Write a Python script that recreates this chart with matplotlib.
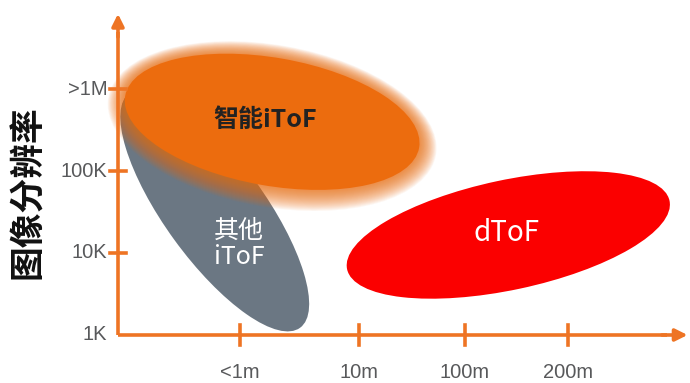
import matplotlib
matplotlib.use("Agg")
from matplotlib import pyplot as plt
from matplotlib.patches import Ellipse

# data: categories / ranges (x in axis position units, y in log10 pixels)
x_labels = ['<1m', '10m', '100m', '200m']
x_pos = [1.49, 2.94, 4.23, 5.49]
y_labels = ['1K', '10K', '100K', '>1M']
y_pos = [3, 4, 5, 6]

# regions: centre x, centre log10(res), width, height, angle
regions = {
    'other':  (1.18, 4.52, 3.54, 1.22, -54),
    'smart':  (1.88, 5.60, 3.64, 1.56, -10),
    'dtof':   (4.76, 4.22, 4.02, 1.34, 12),
}

orange = '#ec6c0e'
axis_c = '#ee7424'
gray = '#6b7783'
red = '#fb0000'

fig = plt.figure(figsize=(6.9, 3.83), dpi=100)
ax = fig.add_axes([0, 0, 1, 1])
ax.set_xlim(-1.439, 6.976)
ax.set_ylim(2.415, 7.085)
ax.set_aspect('equal')
ax.axis('off')

# other iToF (gray)
cx, cy, w, h, a = regions['other']
ax.add_patch(Ellipse((cx, cy), w, h, angle=a, color=gray, lw=0, zorder=2))

# glow around smart iToF
cx, cy, w, h, a = regions['smart']
for k in range(22, 0, -1):
    d = k * 0.0095
    ax.add_patch(Ellipse((cx, cy - d * 0.25), w + 2 * d, h + 2 * d, angle=a,
                         color=orange, alpha=0.055, lw=0, zorder=3))
ax.add_patch(Ellipse((cx, cy), w, h, angle=a, color=orange, lw=0, zorder=4))

# dToF (red)
cx, cy, w, h, a = regions['dtof']
ax.add_patch(Ellipse((cx, cy), w, h, angle=a, color=red, lw=0, zorder=2))

cjk = ['Noto Sans CJK SC', 'DejaVu Sans']
ax.text(1.79, 5.62, '智能iToF', ha='center', va='center', fontsize=18,
        fontweight='bold', color='#222222', family=cjk, zorder=6)
ax.text(1.475, 4.11, '其他\niToF', ha='center', va='center', fontsize=18,
        color='white', family=cjk, linespacing=1.05, zorder=6)
ax.text(4.74, 4.24, 'dToF', ha='center', va='center', fontsize=20,
        color='white', family=cjk, zorder=6)

# axes with arrows
ax.plot([0, 6.7], [3, 3], color=axis_c, lw=2.6, solid_capstyle='butt', zorder=5)
ax.plot([0, 0], [3, 6.7], color=axis_c, lw=2.6, solid_capstyle='butt', zorder=5)
ax.annotate('', xy=(6.98, 3), xytext=(6.6, 3),
            arrowprops=dict(arrowstyle='-|>', color=axis_c, lw=2.6, mutation_scale=18), zorder=5)
ax.annotate('', xy=(0, 6.95), xytext=(0, 6.6),
            arrowprops=dict(arrowstyle='-|>', color=axis_c, lw=2.6, mutation_scale=18), zorder=5)

for xp, lab in zip(x_pos, x_labels):
    ax.plot([xp, xp], [2.88, 3.12], color=axis_c, lw=2.6, zorder=5)
    ax.text(xp, 2.54, lab, ha='center', va='center', fontsize=14.5,
            color='#58595b', family='Liberation Sans')
for yp, lab in zip(y_pos, y_labels):
    if yp > 3:
        ax.plot([-0.1, 0.1], [yp, yp], color=axis_c, lw=2.6, zorder=5)
    ax.text(-0.13, yp, lab, ha='right', va='center', fontsize=14.5,
            color='#58595b', family='Liberation Sans')

ax.text(-1.1, 4.74, '图像分辨率', rotation=90, ha='center', va='center',
        fontsize=25, fontweight='bold', color='#111111', family=cjk)

fig.savefig('out.png', dpi=100)
